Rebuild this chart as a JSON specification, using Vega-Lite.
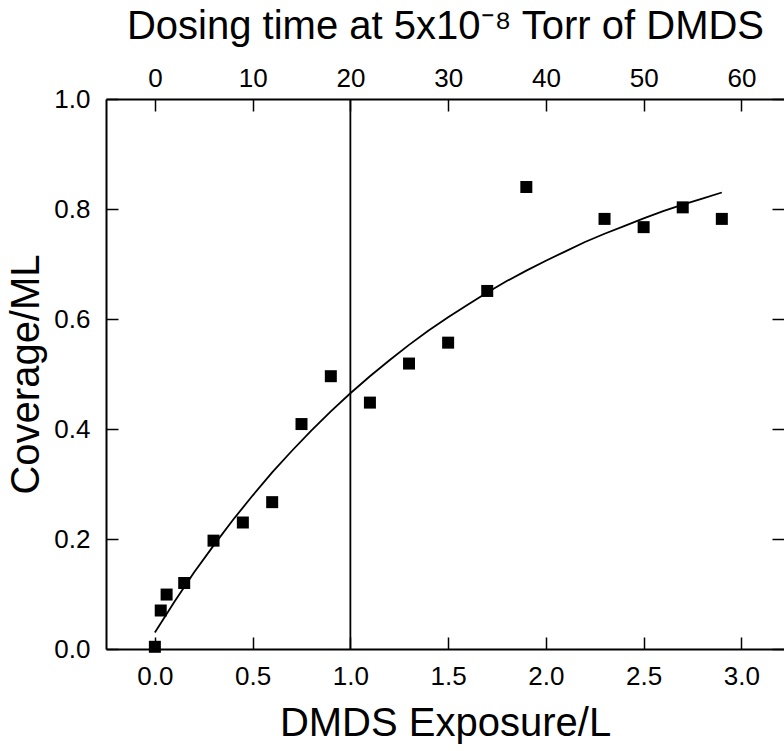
{
  "$schema": "https://vega.github.io/schema/vega-lite/v6.json",
  "autosize": {"type": "none"},
  "padding": {"left": 106, "top": 99, "right": 0, "bottom": 102},
  "width": 678,
  "height": 550,
  "background": "white",
  "config": {
    "font": "Liberation Sans",
    "view": {"stroke": null},
    "axis": {
      "grid": false,
      "domainColor": "black",
      "domainWidth": 2,
      "tickColor": "black",
      "tickWidth": 1.5,
      "tickSize": -12,
      "labelColor": "black",
      "labelFont": "Liberation Sans",
      "labelFontSize": 26,
      "titleColor": "black",
      "titleFont": "Liberation Sans",
      "titleFontWeight": "normal",
      "titleFontSize": 40
    }
  },
  "datasets": {
    "pts": [
      {"exposure": 0.0, "coverage": 0.004},
      {"exposure": 0.03, "coverage": 0.07},
      {"exposure": 0.06, "coverage": 0.099},
      {"exposure": 0.15, "coverage": 0.12},
      {"exposure": 0.3, "coverage": 0.197},
      {"exposure": 0.45, "coverage": 0.23},
      {"exposure": 0.6, "coverage": 0.267},
      {"exposure": 0.75, "coverage": 0.409},
      {"exposure": 0.9, "coverage": 0.496},
      {"exposure": 1.1, "coverage": 0.448},
      {"exposure": 1.3, "coverage": 0.519},
      {"exposure": 1.5, "coverage": 0.557},
      {"exposure": 1.7, "coverage": 0.651},
      {"exposure": 1.9, "coverage": 0.84},
      {"exposure": 2.3, "coverage": 0.782},
      {"exposure": 2.5, "coverage": 0.767},
      {"exposure": 2.7, "coverage": 0.803},
      {"exposure": 2.9, "coverage": 0.782}
    ],
    "fit": [
      {"exposure": 0.0, "coverage": 0.03},
      {"exposure": 0.1, "coverage": 0.086},
      {"exposure": 0.2, "coverage": 0.139},
      {"exposure": 0.3, "coverage": 0.188},
      {"exposure": 0.4, "coverage": 0.235},
      {"exposure": 0.5, "coverage": 0.279},
      {"exposure": 0.6, "coverage": 0.321},
      {"exposure": 0.7, "coverage": 0.36},
      {"exposure": 0.8, "coverage": 0.397},
      {"exposure": 0.9, "coverage": 0.432},
      {"exposure": 1.0, "coverage": 0.465},
      {"exposure": 1.1, "coverage": 0.496},
      {"exposure": 1.2, "coverage": 0.525},
      {"exposure": 1.3, "coverage": 0.553},
      {"exposure": 1.4, "coverage": 0.579},
      {"exposure": 1.5, "coverage": 0.603},
      {"exposure": 1.6, "coverage": 0.626},
      {"exposure": 1.7, "coverage": 0.648},
      {"exposure": 1.8, "coverage": 0.669},
      {"exposure": 1.9, "coverage": 0.688},
      {"exposure": 2.0, "coverage": 0.706},
      {"exposure": 2.1, "coverage": 0.723},
      {"exposure": 2.2, "coverage": 0.74},
      {"exposure": 2.3, "coverage": 0.755},
      {"exposure": 2.4, "coverage": 0.769},
      {"exposure": 2.5, "coverage": 0.783},
      {"exposure": 2.6, "coverage": 0.796},
      {"exposure": 2.7, "coverage": 0.808},
      {"exposure": 2.8, "coverage": 0.819},
      {"exposure": 2.9, "coverage": 0.83}
    ],
    "marker": [{"time": 20}]
  },
  "layer": [
    {
      "data": {"name": "pts"},
      "mark": {"type": "point", "shape": "square", "filled": true, "color": "black", "size": 144, "opacity": 1},
      "encoding": {
        "x": {
          "field": "exposure", "type": "quantitative",
          "scale": {"domain": [-0.25, 3.218], "nice": false, "zero": false},
          "axis": {"orient": "bottom", "values": [0, 0.5, 1, 1.5, 2, 2.5, 3], "format": ".1f", "title": "DMDS Exposure/L", "labelPadding": 26, "titlePadding": 14}
        },
        "y": {
          "field": "coverage", "type": "quantitative",
          "scale": {"domain": [0, 1], "nice": false, "zero": false},
          "axis": {"orient": "left", "values": [0, 0.2, 0.4, 0.6, 0.8, 1.0], "format": ".1f", "title": "Coverage/ML", "labelPadding": 28, "titlePadding": 7}
        }
      }
    },
    {
      "data": {"name": "fit"},
      "mark": {"type": "line", "color": "black", "strokeWidth": 1.8},
      "encoding": {
        "x": {
          "field": "exposure", "type": "quantitative",
          "scale": {"domain": [-0.25, 3.218], "nice": false, "zero": false},
          "axis": null
        },
        "y": {
          "field": "coverage", "type": "quantitative",
          "scale": {"domain": [0, 1], "nice": false, "zero": false},
          "axis": {"orient": "right", "values": [0, 0.2, 0.4, 0.6, 0.8, 1.0], "labels": false, "domain": false, "title": null}
        }
      }
    },
    {
      "data": {"name": "marker"},
      "mark": {"type": "rule", "color": "black", "strokeWidth": 1.8},
      "encoding": {
        "x": {
          "field": "time", "type": "quantitative",
          "scale": {"domain": [-5, 64.36], "nice": false, "zero": false},
          "axis": {"orient": "top", "values": [0, 10, 20, 30, 40, 50, 60], "title": "Dosing time at 5x10⁻⁸ Torr of DMDS", "labelPadding": 20, "titlePadding": 19}
        }
      }
    }
  ],
  "resolve": {"scale": {"x": "independent", "y": "independent"}, "axis": {"x": "independent", "y": "independent"}}
}
